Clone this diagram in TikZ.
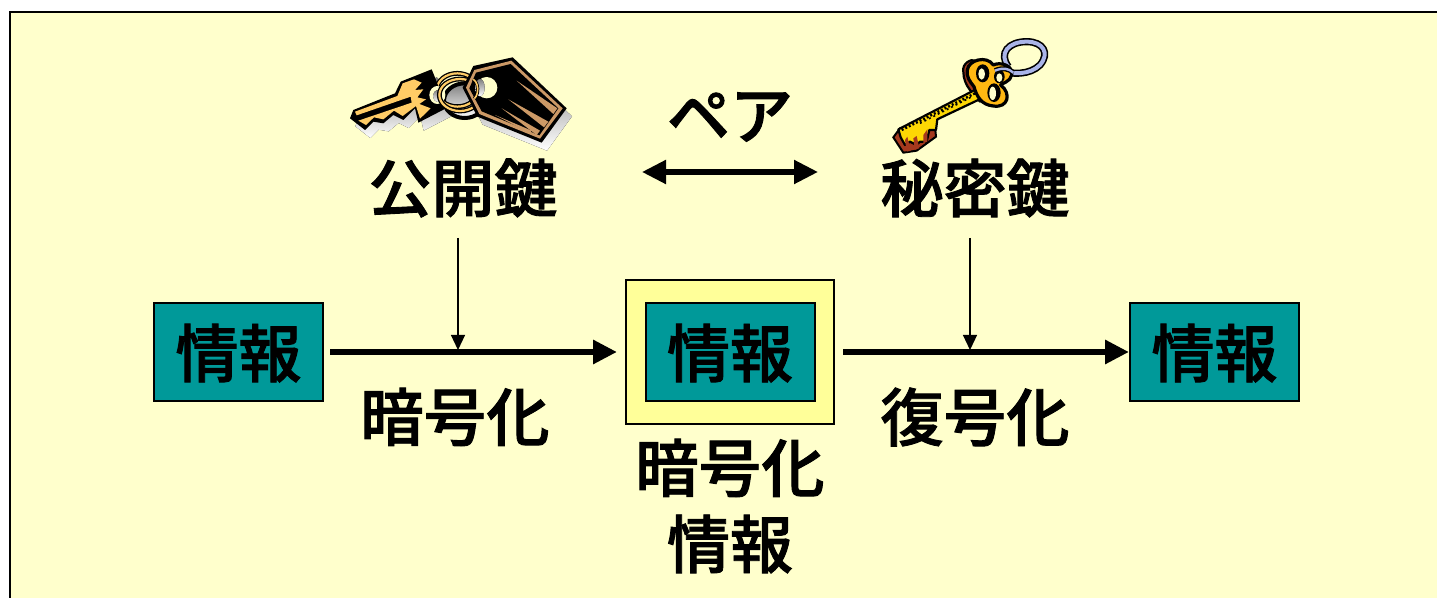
\documentclass[tikz,border=0pt]{standalone}
\usepackage{fontspec}
\setmainfont{Noto Sans CJK JP}[UprightFont={* Medium},BoldFont={* Medium},FakeBold=1.4]
\usetikzlibrary{arrows.meta}
\definecolor{bgc}{HTML}{FFFFCC}
\definecolor{halo}{HTML}{FFFF99}
\definecolor{teal1}{HTML}{009999}
\definecolor{tan1}{HTML}{FFCC66}
\definecolor{tan2}{HTML}{CC9966}
\definecolor{shade}{HTML}{A8A8A8}
\definecolor{gold}{HTML}{FFB812}
\definecolor{rust}{HTML}{A5391E}
\definecolor{pale}{HTML}{A9B4E8}
\tikzset{
 lab/.style={font=\fontsize{31.5pt}{36pt}\selectfont\bfseries,inner sep=0pt,text=black},
 infobox/.style={draw=black,line width=1pt,fill=teal1,minimum width=84.5pt,minimum height=49pt,inner sep=0pt,font=\fontsize{31.5pt}{36pt}\selectfont\bfseries},
 halobox/.style={draw=black,line width=1pt,fill=halo,minimum width=104pt,minimum height=72pt,inner sep=0pt},
 thick arrow/.style={line width=3.4pt,-{Triangle[length=12pt,width=11.5pt]}},
 pair arrow/.style={line width=2.6pt,{Triangle[length=12pt,width=11.5pt]}-{Triangle[length=12pt,width=11.5pt]}},
 thin arrow/.style={line width=0.6pt,-{Triangle[length=7.5pt,width=7pt]}},
 ko/.style={draw=black,line width=1.1pt,line join=round},
}
\newcommand{\boxtext}{\raisebox{-12.5pt}[0pt][0pt]{情報}}
\begin{document}
\begin{tikzpicture}[x=0.5pt,y=-0.5pt]
\useasboundingbox (0,0) rectangle (1437,598);
\fill[white] (0,0) rectangle (1437,598);
\begin{scope}
\clip (0,0) rectangle (1437,598);
\draw[black,line width=1pt,fill=bgc] (9.5,12) rectangle (1500,700);
\end{scope}
% public key
\begin{scope}[shift={(340,40)},x=0.16667pt,y=-0.16667pt]
 \begin{scope}[shift={(16,24)}]
  \fill[shade] (400,78)--(518,52)--(680,205)--(605,308)--(412,230)--(368,143)--cycle;
  \fill[shade] (182,125)--(275,88)--(318,205)--(235,248)--(225,205)--(190,240)--(160,225)--(130,250)--(100,245)--(75,270)--(30,235)--(40,210)--(165,160)--cycle;
  \draw[shade,line width=2pt] (358,158) ellipse (62 and 52);
 \end{scope}
 % ring behind
 \draw[black,line width=2.4pt] (352,150) ellipse (62 and 50);
 \draw[tan1,line width=1.1pt] (352,150) ellipse (62 and 50);
 % key
 \fill[black] (182,125)--(275,88)--(290,125)--(318,205)--(235,248)--(225,205)--(190,240)--(160,225)--(130,250)--(100,245)--(75,270)--(30,235)--(40,210)--(165,160)--cycle;
 \fill[tan1] (188,130)--(222,118)--(245,128)--(225,150)--(250,148)--(232,172)--(258,178)--(238,192)--(272,205)--(240,236)--(228,198)--(188,228)--(162,212)--(130,238)--(102,232)--(78,255)--(55,242)--(215,188)--(212,170)--(50,226)--(45,215)--(172,168)--cycle;
 \fill[bgc] (292,165) ellipse (24 and 27);
 \fill[shade] (292,168) ellipse (12 and 18);
 \draw[black,line width=2.4pt] (360,165) ellipse (62 and 48);
 \draw[tan1,line width=1.1pt] (360,165) ellipse (62 and 48);
 % tag
 \fill[black] (400,78)--(518,52)--(680,205)--(605,308)--(412,230)--(368,143)--cycle;
 \fill[tan2] (403,90)--(514,62)--(668,205)--(600,296)--(418,222)--(378,143)--cycle;
 \fill[black] (408,98)--(512,72)--(655,205)--(598,286)--(425,214)--(388,145)--cycle;
 \fill[tan2] (530,122)--(652,205)--(640,222)--cycle;
 \fill[tan2] (505,178)--(625,245)--(612,262)--cycle;
 \fill[tan2] (485,205)--(600,272)--(590,285)--cycle;
 \fill[tan2] (465,225)--(575,272)--(570,280)--cycle;
 \fill[bgc] (440,143) circle (32);
 \fill[shade] (420,143) ellipse (14 and 26);
 \draw[black,line width=1.6pt] (400,118) arc (-70:60:20 and 32);
 \draw[tan1,line width=.8pt] (400,118) arc (-70:60:20 and 32);
\end{scope}
% secret key
\begin{scope}[shift={(880,30)},x=0.16667pt,y=-0.16667pt]
 % ring
 \draw[black,line width=3.6pt] (385,110) .. controls (355,70) and (385,35) .. (440,35) .. controls (490,35) and (510,70) .. (480,105) .. controls (450,135) and (395,135) .. (355,120);
 \draw[pale,line width=2pt] (385,110) .. controls (355,70) and (385,35) .. (440,35) .. controls (490,35) and (510,70) .. (480,105) .. controls (450,135) and (395,135) .. (355,120);
 % bit shadow
 \fill[rust,draw=black,line width=1pt] (40,322)--(70,368)--(110,362)--(168,320)--(165,290)--(60,295)--cycle;
 \draw[ko,fill=rust] (250,125) .. controls (245,100) and (275,85) .. (285,92) -- (300,215) .. controls (285,195) and (250,170) .. (250,125) -- cycle;
 % shaft
 \draw[ko,fill=yellow!75!orange] (55,298) -- (288,178) -- (305,205) -- (172,268) -- (168,300) -- (148,300) -- (140,335) -- (120,335) -- (110,345) -- (90,335) -- (75,345) -- (62,322) -- cycle;
 \draw[black,line width=1.2pt,dash pattern=on 1pt off 1pt] (65,300) -- (285,190);
 \draw[black,line width=.8pt,dash pattern=on 1pt off 1.5pt] (120,280) -- (280,198);
 \fill[rust] (75,330) -- (82,320) -- (92,362) -- (80,365) -- cycle;
 \fill[rust] (100,325) -- (110,318) -- (118,355) -- (104,358) -- cycle;
 \fill[rust] (130,315) -- (142,298) -- (142,335) -- (130,340) -- cycle;
 % head
 \draw[ko,line width=1.6pt,fill=gold] (262,120) .. controls (265,90) and (320,75) .. (340,105) .. controls (360,95) and (400,105) .. (395,135) .. controls (392,155) and (365,160) .. (362,165) .. controls (395,190) and (385,235) .. (340,228) .. controls (305,225) and (290,200) .. (282,170) .. controls (270,155) and (258,140) .. (262,120) -- cycle;
 \fill[black] (308,130) ellipse (20 and 27);
 \fill[bgc] (305,132) ellipse (10 and 17);
 \fill[black] (342,188) ellipse (20 and 28);
 \fill[bgc] (338,190) ellipse (10 and 20);
 \fill[black] (358,140) ellipse (16 and 20);
 \fill[bgc] (358,143) ellipse (9 and 13);
 \draw[black,line width=2.6pt] (345,122) .. controls (370,112) and (385,115) .. (400,128);
 \draw[pale,line width=1.2pt] (345,122) .. controls (370,112) and (385,115) .. (400,128);
\end{scope}
% labels
\node[lab] (pub) at (463,188) {公開鍵};
\node[lab] (sec) at (975,188) {秘密鍵};
\node[lab] (pair) at (730,117) {ペア};
\coordinate (pairL) at (642,172);
\coordinate (pairR) at (818,172);
\draw[pair arrow] (pairL) -- (pairR);
% boxes
\node[infobox] (info1) at (238.5,352) {\boxtext};
\node[halobox] (halo) at (730,352) {};
\node[infobox] (info2) at (730,352) {\boxtext};
\node[infobox] (info3) at (1214.5,352) {\boxtext};
\draw[thick arrow,shorten >=4pt] (info1.east) ++(6,0) -- (halo.west);
\draw[thick arrow,shorten <=4pt] (halo.east) -- (info3.west);
\coordinate (encJ) at (458,350);
\coordinate (decJ) at (970,350);
\coordinate (pubS) at (458,238);
\coordinate (secS) at (970,238);
\draw[thin arrow] (pubS) -- (encJ);
\draw[thin arrow] (secS) -- (decJ);
\node[lab] (enc) at (455,417) {暗号化};
\node[lab] (dec) at (975,417) {復号化};
\node[lab] (cipher1) at (730,468) {暗号化};
\node[lab] (cipher2) at (730,544) {情報};
\end{tikzpicture}
\end{document}
